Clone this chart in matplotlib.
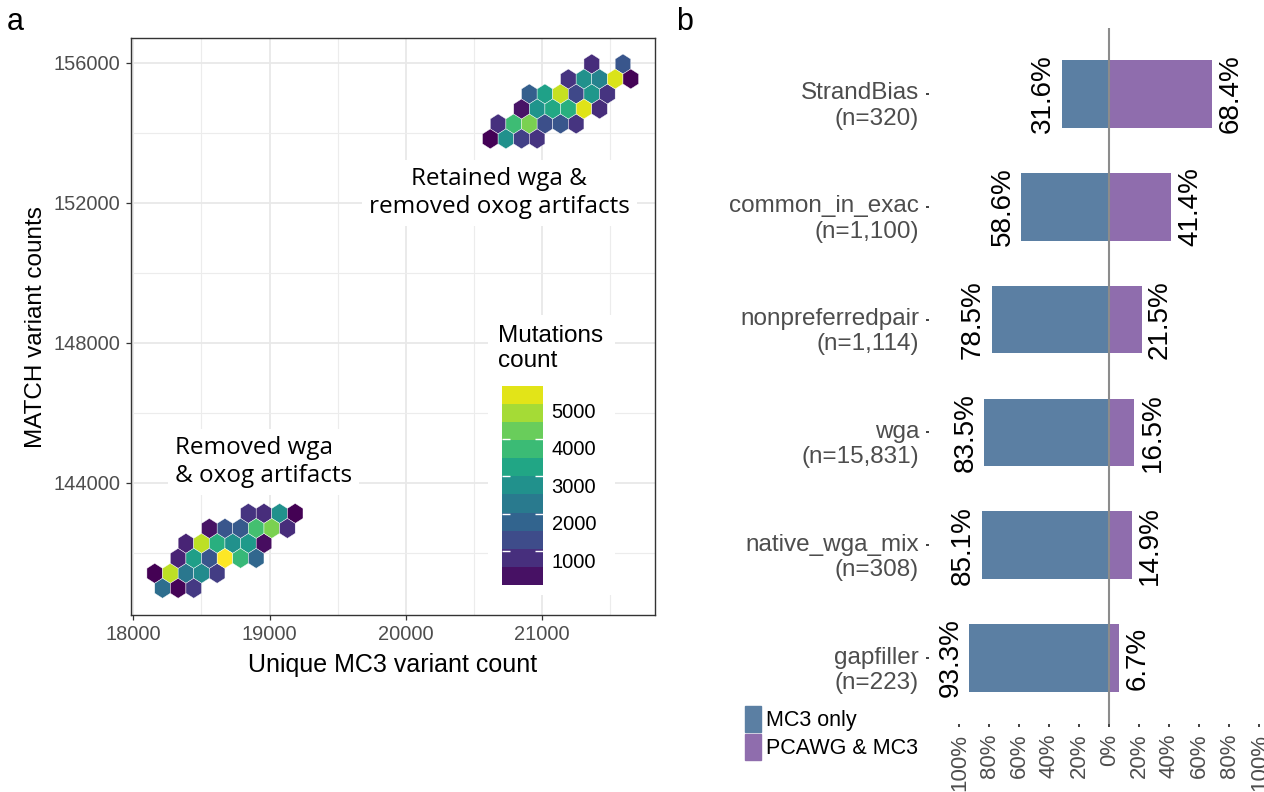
import numpy as np
import matplotlib
matplotlib.use('Agg')
import matplotlib.pyplot as plt
from matplotlib.patches import Patch, Rectangle
from matplotlib.colors import Normalize
from matplotlib.transforms import ScaledTranslation

plt.rcParams['font.family'] = ['Liberation Sans', 'DejaVu Sans']

# ---- panel a: hexagon centres (unique MC3 count, MATCH count) and mutation counts
removed_x = [18846, 18958, 19076, 19191,
             18557, 18672, 18790, 18905, 19019, 19132,
             18386, 18498, 18616, 18731, 18846, 18958,
             18330, 18445, 18557, 18672, 18790, 18905,
             18154, 18269, 18386, 18498, 18616,
             18212, 18330, 18445]
removed_y = [143120] * 4 + [142680] * 6 + [142240] * 6 + [141800] * 6 + [141360] * 5 + [140920] * 3
removed_n = [890, 780, 2760, 100,
             360, 1530, 1590, 3830, 4360, 780,
             620, 4890, 3460, 2760, 2970, 280,
             620, 3080, 1530, 5420, 3670, 1850,
             100, 4890, 2200, 2640, 1050,
             2010, 160, 990]

retained_x = [21363, 21595,
              21191, 21306, 21424, 21539, 21651,
              20905, 21020, 21135, 21253, 21363, 21477,
              20849, 20964, 21077, 21191, 21306, 21424,
              20678, 20793, 20905, 21020, 21135, 21248,
              20622, 20734, 20849, 20964]
retained_y = [155960] * 2 + [155534] * 5 + [155105] * 6 + [154677] * 6 + [154248] * 6 + [153820] * 4
retained_n = [780, 1530,
              890, 2760, 2470, 5110, 160,
              1690, 3130, 4950, 1260, 2910, 890,
              390, 2860, 3300, 3460, 5170, 780,
              830, 3740, 4340, 1370, 1530, 890,
              140, 2760, 1100, 890]

legend_ticks = [1000, 2000, 3000, 4000, 5000]

# ---- panel b: filters
filters = ['StrandBias', 'common_in_exac', 'nonpreferredpair', 'wga', 'native_wga_mix', 'gapfiller']
filter_n = ['320', '1,100', '1,114', '15,831', '308', '223']
mc3_only = [31.6, 58.6, 78.5, 83.5, 85.1, 93.3]
pcawg_mc3 = [68.4, 41.4, 21.5, 16.5, 14.9, 6.7]
pct_ticks = [-100, -80, -60, -40, -20, 0, 20, 40, 60, 80, 100]

BLUE = '#5B7FA3'
PURPLE = '#8F6DAD'
GREY_TXT = '#4d4d4d'

W, H = 1264, 792
fig = plt.figure(figsize=(W / 100, H / 100), dpi=100)


def box(x0, y0, x1, y1):
    # pixel box (top-left origin) -> figure fraction rect
    return [x0 / W, 1 - y1 / H, (x1 - x0) / W, (y1 - y0) / H]


# ================= panel a =================
ax1 = fig.add_axes(box(131, 38.4, 655, 615))
hx = np.array(removed_x + retained_x)
hy = np.array(removed_y + retained_y)
hn = np.array(removed_n + retained_n)
norm = Normalize(hn.min(), hn.max())
ax1.hexbin(hx, hy, C=hn, reduce_C_function=np.sum, gridsize=(34, 19),
           extent=(17928, 21821, 140552, 156816), cmap='viridis', norm=norm,
           edgecolors='white', linewidths=0.3, zorder=2)
ax1.set_xlim(17983, 21827)
ax1.set_ylim(140217, 156691)
ax1.set_xticks([18000, 19000, 20000, 21000])
ax1.set_yticks([144000, 148000, 152000, 156000])
ax1.set_xticks([18500, 19500, 20500, 21500], minor=True)
ax1.set_yticks([142000, 146000, 150000, 154000], minor=True)
ax1.set_axisbelow(True)
ax1.grid(which='major', color='#e8e8e8', lw=1.3)
ax1.grid(which='minor', color='#ececec', lw=0.8)
ax1.tick_params(which='major', length=3.5, width=0.9, color='#333333',
                labelcolor=GREY_TXT, labelsize=14.4, pad=4)
ax1.tick_params(which='minor', length=0)
for sp in ax1.spines.values():
    sp.set_color('#333333')
    sp.set_linewidth(1.0)
ax1.set_xlabel('Unique MC3 variant count', fontsize=18, labelpad=6)
ax1.set_ylabel('MATCH variant counts', fontsize=17.5, labelpad=5)

ax1.text(20683, 152274, 'Retained wga &\nremoved oxog artifacts', ha='center', va='center',
         fontsize=17.5, family=['Open Sans', 'DejaVu Sans'], zorder=3,
         bbox=dict(facecolor='white', edgecolor='none', pad=5))
ax1.text(18306, 144589, 'Removed wga\n& oxog artifacts', ha='left', va='center',
         multialignment='left', fontsize=17.5, family=['Open Sans', 'DejaVu Sans'], zorder=3,
         bbox=dict(facecolor='white', edgecolor='none', pad=5))

# legend (white box + stepped colour bar spanning the count range)
ax1.add_patch(Rectangle((0.681, 0.035), 0.242, 0.486, transform=ax1.transAxes,
                        facecolor='white', edgecolor='none', zorder=1.5))
fig.text(498 / W, 1 - 325 / H, 'Mutations\ncount', ha='left', va='top', fontsize=17.5)
cax = fig.add_axes(box(501.7, 385.7, 543.3, 585))
nb = 11
edges = np.linspace(hn.min(), hn.max(), nb + 1)
mids = (edges[:-1] + edges[1:]) / 2
cax.pcolormesh([0, 1], edges, mids[:, None], cmap='viridis', norm=norm)
cax.set_xlim(0, 1)
cax.set_ylim(edges[0], edges[-1])
cax.set_xticks([])
cax.set_yticks(legend_ticks)
cax.set_yticklabels([str(t) for t in legend_ticks])
cax.tick_params(axis='y', direction='in', left=True, right=True, length=5.5, width=1,
                color='white', labelleft=False, labelright=True, labelsize=14.5, pad=6)
for sp in cax.spines.values():
    sp.set_visible(False)
shift = ScaledTranslation(0, -9 / 100, fig.dpi_scale_trans)
for lab in cax.get_yticklabels():
    lab.set_transform(lab.get_transform() + shift)
ticks = cax.yaxis.get_major_ticks()
ticks[-1].tick1line.set_visible(False)
ticks[-1].tick2line.set_visible(False)

# ================= panel b =================
ax2 = fig.add_axes(box(929, 28, W, 724))
ypos = np.arange(len(filters))
left_vals = -np.array(mc3_only)
right_vals = np.array(pcawg_mc3)
ax2.barh(ypos, left_vals, height=0.6, color=BLUE, zorder=2)
ax2.barh(ypos, right_vals, height=0.6, color=PURPLE, zorder=2)
ax2.axvline(0, color='#8c8c8c', lw=1.5, zorder=3)
off = 4
for y, lv, rv in zip(ypos, left_vals, right_vals):
    ax2.annotate(f'{-lv:.1f}%', (lv, y), xytext=(-off, 0), textcoords='offset points',
                 rotation=90, ha='right', va='center', fontsize=20)
    ax2.annotate(f'{rv:.1f}%', (rv, y), xytext=(off, 0), textcoords='offset points',
                 rotation=90, ha='left', va='center', fontsize=20)
ax2.set_xlim((929 - 1109.3) / 1.5, (W - 1109.3) / 1.5)
ax2.set_ylim(len(filters) - 1 + 0.585, -0.585)
ax2.set_yticks(ypos)
ax2.set_yticklabels([f'{f}\n(n={n})' for f, n in zip(filters, filter_n)],
                    ha='right', multialignment='right')
ax2.set_xticks(pct_ticks)
ax2.set_xticklabels([f'{abs(v)}%' for v in pct_ticks], rotation=90)
ax2.tick_params(axis='both', length=2.2, width=1.3, color='#333333', labelcolor=GREY_TXT)
ax2.tick_params(axis='y', labelsize=17.5, pad=5)
ax2.tick_params(axis='x', labelsize=16, pad=5)
for sp in ax2.spines.values():
    sp.set_visible(False)
shift2 = ScaledTranslation(0, -8 / 100, fig.dpi_scale_trans)
for lab in ax2.get_yticklabels():
    lab.set_transform(lab.get_transform() + shift2)

ax2.legend(handles=[Patch(color=BLUE, label='MC3 only'), Patch(color=PURPLE, label='PCAWG & MC3')],
           loc='upper left', bbox_to_anchor=(745 / W, 1 - 706 / H), bbox_transform=fig.transFigure,
           frameon=False, fontsize=15.5, handlelength=0.74, handleheight=1.45,
           handletextpad=0.25, labelspacing=0.12, borderpad=0, borderaxespad=0)

fig.text(15 / W, 1 - 22 / H, 'a', fontsize=22, ha='center', va='center')
fig.text(685 / W, 1 - 22 / H, 'b', fontsize=22, ha='center', va='center')

fig.savefig('out.png', dpi=100)
